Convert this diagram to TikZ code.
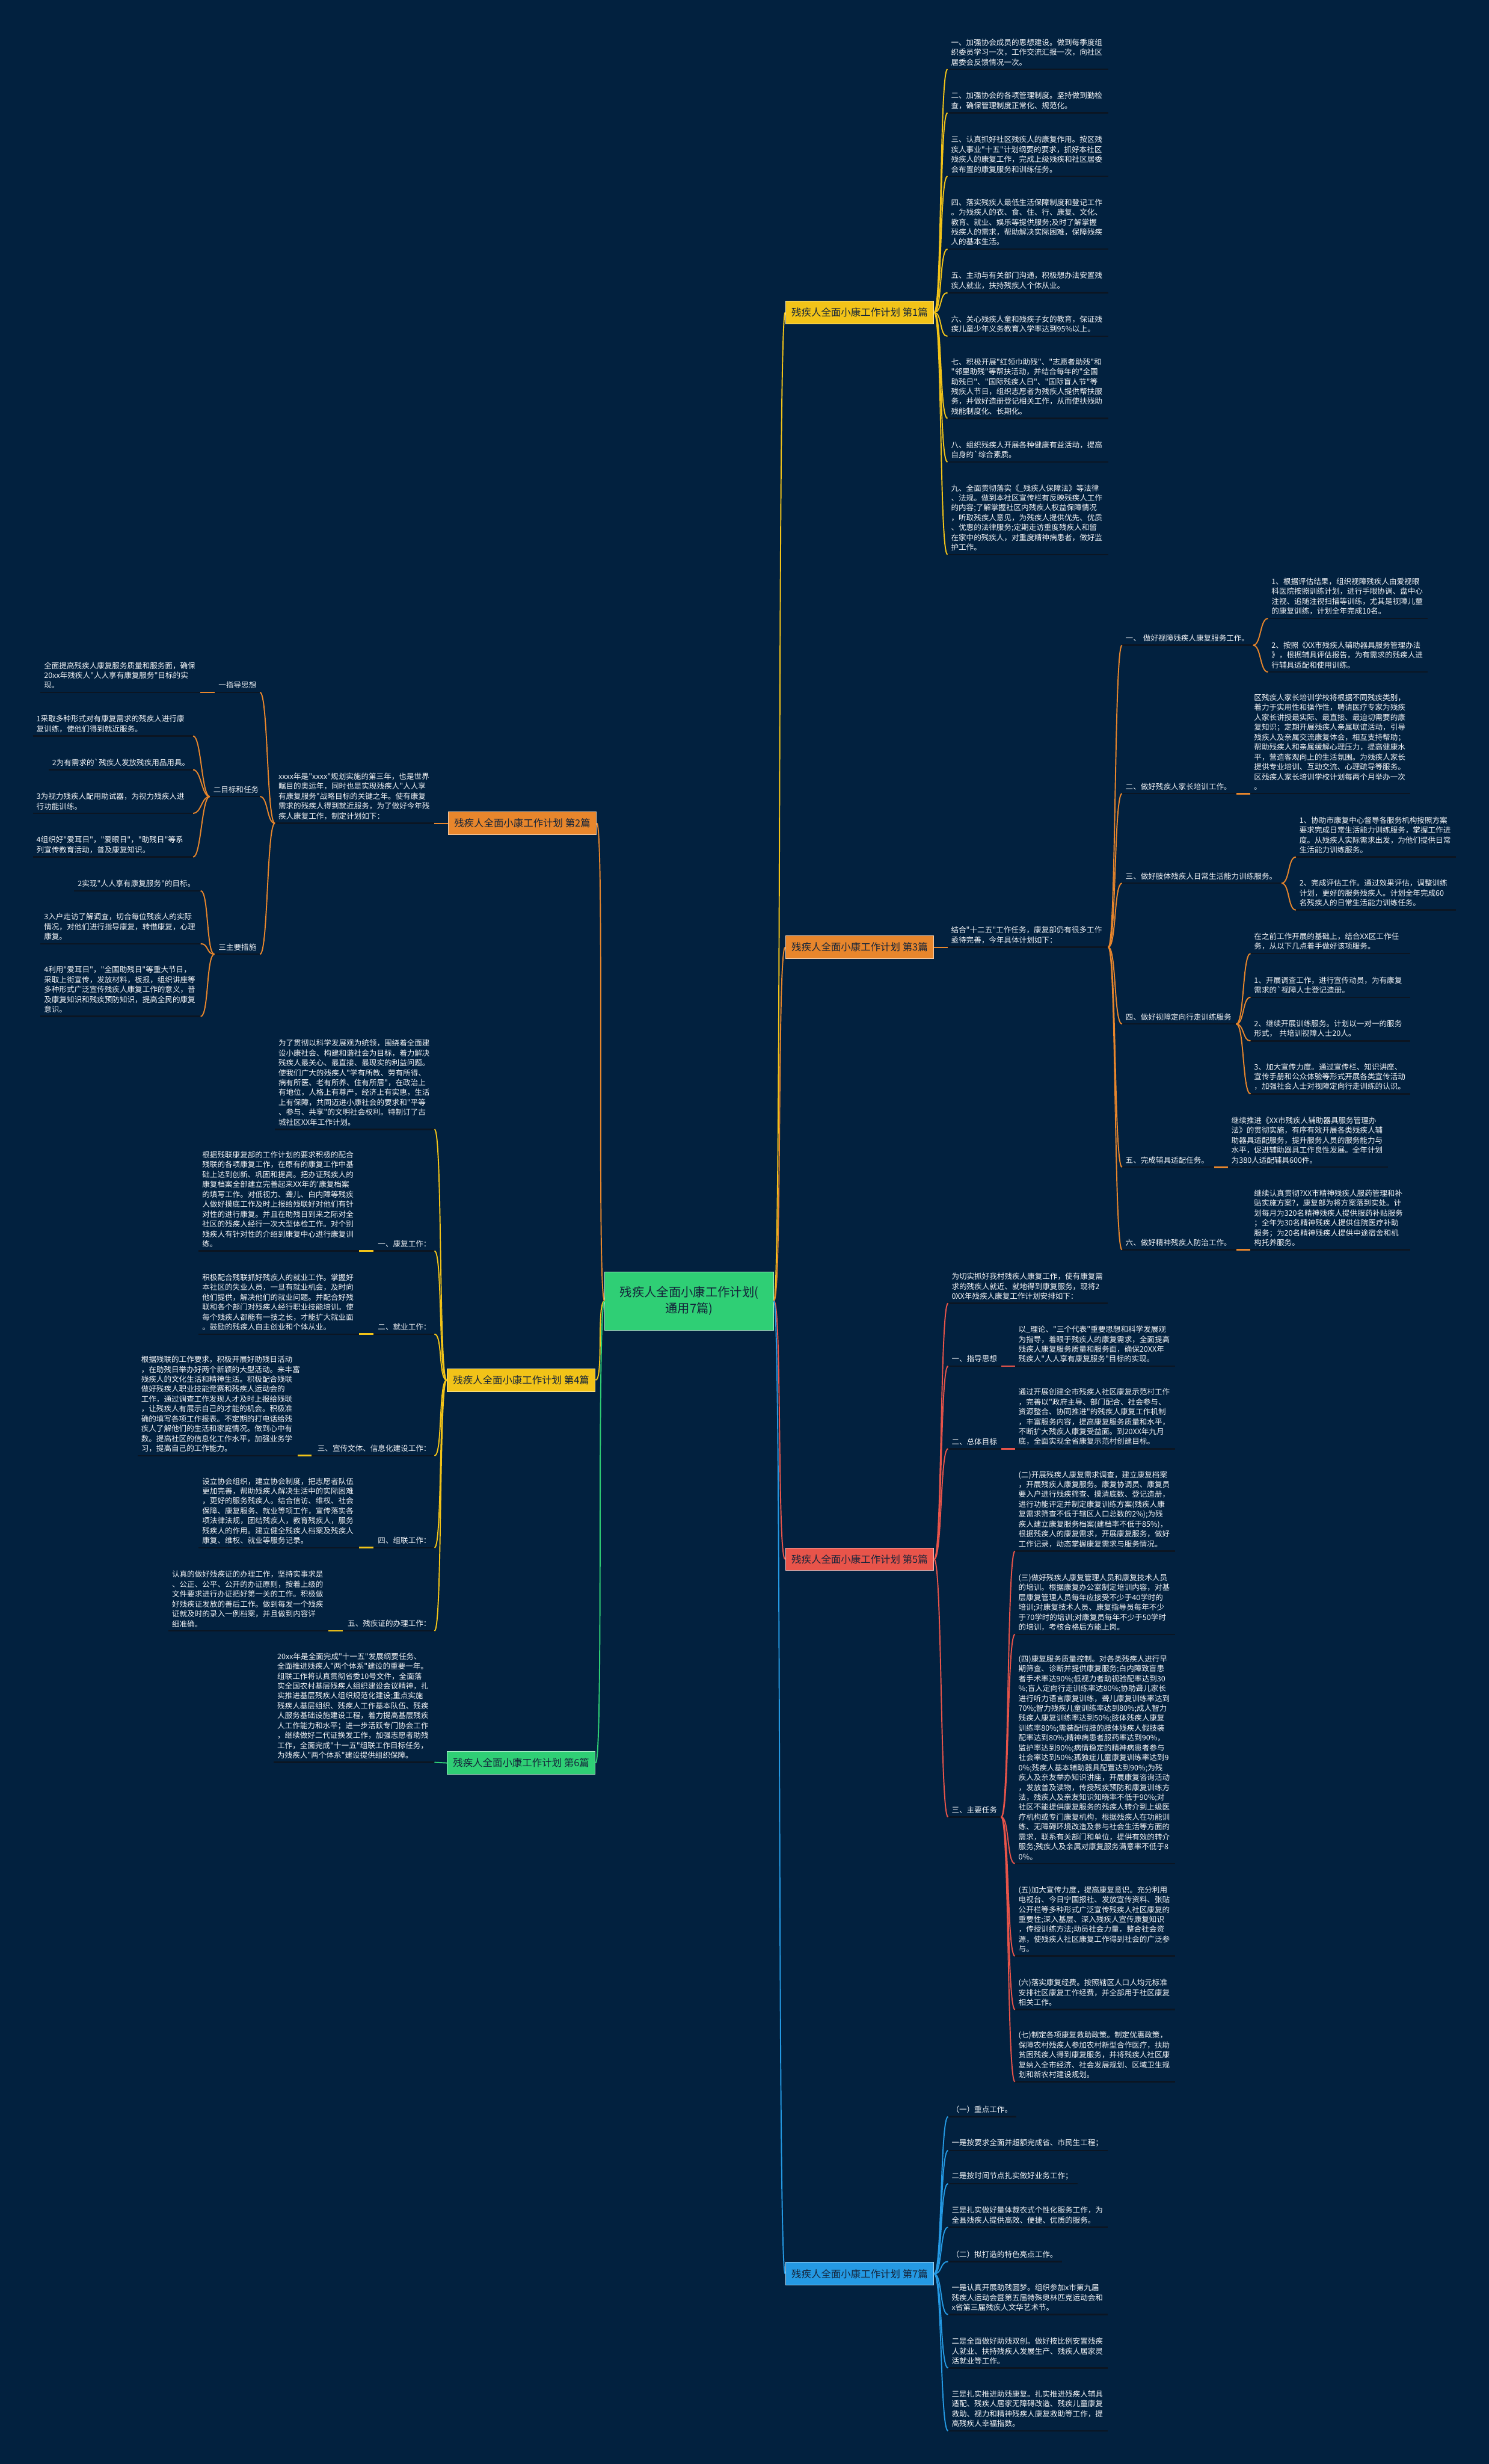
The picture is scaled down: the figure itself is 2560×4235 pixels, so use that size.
\documentclass[tikz,border=0pt]{standalone}
\usepackage{fontspec}
\setmainfont{Noto Sans CJK SC}[Ligatures=TeXOff]
\usepackage{tikz}

\definecolor{bg}{HTML}{02213F}
\definecolor{txt}{HTML}{F2F4F7}
\definecolor{uln}{HTML}{0B1522}
\definecolor{navy}{HTML}{14243A}
\definecolor{cyel}{HTML}{F2C318}
\definecolor{cora}{HTML}{E8862C}
\definecolor{cred}{HTML}{E8544A}
\definecolor{cblu}{HTML}{2499E3}
\definecolor{cgrn}{HTML}{2FCF75}
\newcommand\leaffont{\fontsize{13}{17}\selectfont}

\tikzset{
  leaf/.style={anchor=south west, text width=#1pt, align=left, inner xsep=6pt,
    inner ysep=6pt, text=txt, font=\leaffont},
  lleaf/.style={leaf=#1, anchor=south east},
  rtag/.style={lleaf=#1, align=right},
  uline/.style={draw=uln, line width=2.5pt},
  link/.style={draw=#1, line width=2pt},
  seg/.style={draw=#1, line width=3pt},
  bnode/.style={fill=#1, draw=white!60!#1, line width=1pt, minimum width=255pt,
    minimum height=39pt, inner sep=0pt, text=navy, font=\fontsize{17}{20}\selectfont},
  mainbox/.style={fill=cgrn, draw=white!60!cgrn, line width=1pt, minimum width=290pt,
    minimum height=100pt, align=center, text=navy, font=\fontsize{21}{28}\selectfont}
}

\begin{document}
\begin{tikzpicture}[x=1pt,y=-1pt]
  \fill[bg] (0,0) rectangle (2560,4235);
  \useasboundingbox (0,0) rectangle (2560,4235);

  % centre and the seven branches
  \node[mainbox] (cn) at (1185,2236) {残疾人全面小康工作计划(\\通用7篇)};
  \node[bnode=cyel] (b1) at (1478,537)  {残疾人全面小康工作计划 第1篇};
  \node[bnode=cora] (b3) at (1478,1628) {残疾人全面小康工作计划 第3篇};
  \node[bnode=cred] (b5) at (1478,2680) {残疾人全面小康工作计划 第5篇};
  \node[bnode=cblu] (b7) at (1478,3908) {残疾人全面小康工作计划 第7篇};
  \node[bnode=cora] (b2) at (898,1415)  {残疾人全面小康工作计划 第2篇};
  \node[bnode=cyel] (b4) at (896,2372)  {残疾人全面小康工作计划 第4篇};
  \node[bnode=cgrn] (b6) at (896,3030)  {残疾人全面小康工作计划 第6篇};

  % 第1篇
  \node[leaf=264] (a1) at (1629,119) {一、加强协会成员的思想建设。做到每季度组\\织委员学习一次，工作交流汇报一次，向社区\\居委会反馈情况一次。};
  \node[leaf=264] (a2) at (1629,194) {二、加强协会的各项管理制度。坚持做到勤检\\查，确保管理制度正常化、规范化。};
  \node[leaf=264] (a3) at (1629,303) {三、认真抓好社区残疾人的康复作用。按区残\\疾人事业"十五"计划纲要的要求，抓好本社区\\残疾人的康复工作，完成上级残疾和社区居委\\会布置的康复服务和训练任务。};
  \node[leaf=264] (a4) at (1629,428) {四、落实残疾人最低生活保障制度和登记工作\\。为残疾人的衣、食、住、行、康复、文化、\\教育、就业、娱乐等提供服务;及时了解掌握\\残疾人的需求，帮助解决实际困难，保障残疾\\人的基本生活。};
  \node[leaf=264] (a5) at (1629,503) {五、主动与有关部门沟通，积极想办法安置残\\疾人就业，扶持残疾人个体从业。};
  \node[leaf=264] (a6) at (1629,578) {六、关心残疾人童和残疾子女的教育，保证残\\疾儿童少年义务教育入学率达到95\%以上。};
  \node[leaf=264] (a7) at (1629,719) {七、积极开展"红领巾助残"、"志愿者助残"和\\"邻里助残"等帮扶活动，并结合每年的"全国\\助残日"、"国际残疾人日"、"国际盲人节"等\\残疾人节日，组织志愿者为残疾人提供帮扶服\\务，并做好造册登记相关工作，从而使扶残助\\残能制度化、长期化。};
  \node[leaf=264] (a8) at (1629,794) {八、组织残疾人开展各种健康有益活动，提高\\自身的`综合素质。};
  \node[leaf=264] (a9) at (1629,953) {九、全面贯彻落实《\_残疾人保障法》等法律\\、法规。做到本社区宣传栏有反映残疾人工作\\的内容;了解掌握社区内残疾人权益保障情况\\，听取残疾人意见，为残疾人提供优先、优质\\、优惠的法律服务;定期走访重度残疾人和留\\在家中的残疾人，对重度精神病患者，做好监\\护工作。};

  % 第3篇
  \node[leaf=264] (r3) at (1629,1628) {结合"十二五"工作任务，康复部仍有很多工作\\亟待完善，今年具体计划如下：};
  \node[leaf=213] (c31) at (1929,1109) {一、 做好视障残疾人康复服务工作。};
  \node[leaf=262] (c311) at (2180,1063) {1、根据评估结果，组织视障残疾人由爱视眼\\科医院按照训练计划，进行手眼协调、盘中心\\注视、追随注视扫描等训练，尤其是视障儿童\\的康复训练，计划全年完成10名。};
  \node[leaf=262] (c312) at (2180,1155) {2、按照《XX市残疾人辅助器具服务管理办法\\》，根据辅具评估报告，为有需求的残疾人进\\行辅具适配和使用训练。};
  \node[leaf=184] (c32) at (1929,1364) {二、做好残疾人家长培训工作。};
  \node[leaf=262] (c321) at (2150,1364) {区残疾人家长培训学校将根据不同残疾类别，\\着力于实用性和操作性，聘请医疗专家为残疾\\人家长讲授最实际、最直接、最迫切需要的康\\复知识；定期开展残疾人亲属联谊活动，引导\\残疾人及亲属交流康复体会，相互支持帮助；\\帮助残疾人和亲属缓解心理压力，提高健康水\\平，营造客观向上的生活氛围。为残疾人家长\\提供专业培训、互动交流、心理疏导等服务。\\区残疾人家长培训学校计划每两个月举办一次\\。};
  \node[leaf=262] (c33) at (1929,1518) {三、做好肢体残疾人日常生活能力训练服务。};
  \node[leaf=263] (c331) at (2228,1473) {1、协助市康复中心督导各服务机构按照方案\\要求完成日常生活能力训练服务，掌握工作进\\度。从残疾人实际需求出发，为他们提供日常\\生活能力训练服务。};
  \node[leaf=263] (c332) at (2228,1564) {2、完成评估工作。通过效果评估，调整训练\\计划，更好的服务残疾人。计划全年完成60\\名残疾人的日常生活能力训练任务。};
  \node[leaf=184] (c34) at (1929,1760) {四、做好视障定向行走训练服务};
  \node[leaf=262] (c341) at (2150,1639) {在之前工作开展的基础上，结合XX区工作任\\务，从以下几点着手做好该项服务。};
  \node[leaf=262] (c342) at (2150,1714) {1、开展调查工作，进行宣传动员，为有康复\\需求的`视障人士登记造册。};
  \node[leaf=262] (c343) at (2150,1789) {2、继续开展训练服务。计划以一对一的服务\\形式， 共培训视障人士20人。};
  \node[leaf=262] (c344) at (2150,1880) {3、加大宣传力度。通过宣传栏、知识讲座、\\宣传手册和公众体验等形式开展各类宣传活动\\，加强社会人士对视障定向行走训练的认识。};
  \node[leaf=146] (c35) at (1929,2006) {五、完成辅具适配任务。};
  \node[leaf=263] (c351) at (2111,2006) {继续推进《XX市残疾人辅助器具服务管理办\\法》的贯彻实施，有序有效开展各类残疾人辅\\助器具适配服务，提升服务人员的服务能力与\\水平，促进辅助器具工作良性发展。全年计划\\为380人适配辅具600件。};
  \node[leaf=184] (c36) at (1929,2148) {六、做好精神残疾人防治工作。};
  \node[leaf=262] (c361) at (2150,2148) {继续认真贯彻?XX市精神残疾人服药管理和补\\贴实施方案?，康复部为将方案落到实处。计\\划每月为320名精神残疾人提供服药补贴服务\\；全年为30名精神残疾人提供住院医疗补助\\服务；为20名精神残疾人提供中途宿舍和机\\构托养服务。};

  % 第5篇
  \node[leaf=262] (r5) at (1630,2240) {为切实抓好我村残疾人康复工作，使有康复需\\求的残疾人就近、就地得到康复服务，现将2\\0XX年残疾人康复工作计划安排如下：};
  \node[leaf=79] (c51) at (1630,2348) {一、指导思想};
  \node[leaf=263] (c511) at (1745,2348) {以\_理论、"三个代表"重要思想和科学发展观\\为指导，着眼于残疾人的康复需求，全面提高\\残疾人康复服务质量和服务面，确保20XX年\\残疾人"人人享有康复服务"目标的实现。};
  \node[leaf=79] (c52) at (1630,2490) {二、总体目标};
  \node[leaf=263] (c521) at (1745,2490) {通过开展创建全市残疾人社区康复示范村工作\\，完善以"政府主导、部门配合、社会参与、\\资源整合、协同推进"的残疾人康复工作机制\\，丰富服务内容，提高康复服务质量和水平，\\不断扩大残疾人康复受益面。到20XX年九月\\底，全面实现全省康复示范村创建目标。};
  \node[leaf=79] (c53) at (1630,3123) {三、主要任务};
  \node[leaf=263] (c531) at (1745,2666) {(二)开展残疾人康复需求调查，建立康复档案\\，开展残疾人康复服务。康复协调员、康复员\\要入户进行残疾筛查、摸清底数、登记造册，\\进行功能评定并制定康复训练方案(残疾人康\\复需求筛查不低于辖区人口总数的2\%);为残\\疾人建立康复服务档案(建档率不低于85\%)，\\根据残疾人的康复需求，开展康复服务，做好\\工作记录，动态掌握康复需求与服务情况。};
  \node[leaf=263] (c532) at (1745,2809) {(三)做好残疾人康复管理人员和康复技术人员\\的培训。根据康复办公室制定培训内容，对基\\层康复管理人员每年应接受不少于40学时的\\培训;对康复技术人员、康复指导员每年不少\\于70学时的培训;对康复员每年不少于50学时\\的培训，考核合格后方能上岗。};
  \node[leaf=263] (c533) at (1745,3203) {(四)康复服务质量控制。对各类残疾人进行早\\期筛查、诊断并提供康复服务;白内障致盲患\\者手术率达90\%;低视力者助视验配率达到30\\\%;盲人定向行走训练率达80\%;协助聋儿家长\\进行听力语言康复训练，聋儿康复训练率达到\\70\%;智力残疾儿童训练率达到80\%;成人智力\\残疾人康复训练率达到50\%;肢体残疾人康复\\训练率80\%;需装配假肢的肢体残疾人假肢装\\配率达到80\%;精神病患者服药率达到90\%，\\监护率达到90\%;病情稳定的精神病患者参与\\社会率达到50\%;孤独症儿童康复训练率达到9\\0\%;残疾人基本辅助器具配置达到90\%;为残\\疾人及亲友举办知识讲座，开展康复咨询活动\\，发放普及读物，传授残疾预防和康复训练方\\法，残疾人及亲友知识知晓率不低于90\%;对\\社区不能提供康复服务的残疾人转介到上级医\\疗机构或专门康复机构，根据残疾人在功能训\\练、无障碍环境改造及参与社会生活等方面的\\需求，联系有关部门和单位，提供有效的转介\\服务;残疾人及亲属对康复服务满意率不低于8\\0\%。};
  \node[leaf=263] (c534) at (1745,3362) {(五)加大宣传力度，提高康复意识。充分利用\\电视台、今日宁国报社、发放宣传资料、张贴\\公开栏等多种形式广泛宣传残疾人社区康复的\\重要性;深入基层、深入残疾人宣传康复知识\\，传授训练方法;动员社会力量，整合社会资\\源，使残疾人社区康复工作得到社会的广泛参\\与。};
  \node[leaf=263] (c535) at (1745,3454) {(六)落实康复经费。按照辖区人口人均元标准\\安排社区康复工作经费，并全部用于社区康复\\相关工作。};
  \node[leaf=263] (c536) at (1745,3578) {(七)制定各项康复救助政策。制定优惠政策，\\保障农村残疾人参加农村新型合作医疗，扶助\\贫困残疾人得到康复服务，并将残疾人社区康\\复纳入全市经济、社会发展规划、区域卫生规\\划和新农村建设规划。};

  % 第7篇
  \node[leaf=105] (d1) at (1630,3638) {（一）重点工作。};
  \node[leaf=262] (d2) at (1630,3696) {一是按要求全面并超额完成省、市民生工程；};
  \node[leaf=210] (d3) at (1630,3753) {二是按时间节点扎实做好业务工作；};
  \node[leaf=262] (d4) at (1630,3828) {三是扎实做好量体裁衣式个性化服务工作，为\\全县残疾人提供高效、便捷、优质的服务。};
  \node[leaf=183] (d5) at (1630,3887) {（二）拟打造的特色亮点工作。};
  \node[leaf=262] (d6) at (1630,3978) {一是认真开展助残圆梦。组织参加x市第九届\\残疾人运动会暨第五届特殊奥林匹克运动会和\\x省第三届残疾人文华艺术节。};
  \node[leaf=262] (d7) at (1630,4070) {二是全面做好助残双创。做好按比例安置残疾\\人就业、扶持残疾人发展生产、残疾人居家灵\\活就业等工作。};
  \node[leaf=262] (d8) at (1630,4178) {三是扎实推进助残康复。扎实推进残疾人辅具\\适配、残疾人居家无障碍改造、残疾儿童康复\\救助、视力和精神残疾人康复救助等工作，提\\高残疾人幸福指数。};

  % 第2篇
  \node[lleaf=262] (r2) at (747,1415) {xxxx年是"xxxx"规划实施的第三年，也是世界\\瞩目的奥运年，同时也是实现残疾人"人人享\\有康复服务"战略目标的关键之年。使有康复\\需求的残疾人得到就近服务，为了做好今年残\\疾人康复工作，制定计划如下：};
  \node[rtag=66] (e1) at (447,1190) {一指导思想};
  \node[lleaf=262] (e11) at (344,1190) {全面提高残疾人康复服务质量和服务面，确保\\20xx年残疾人"人人享有康复服务"目标的实\\现。};
  \node[rtag=74] (e2) at (447,1369) {二目标和任务};
  \node[lleaf=263] (e21) at (332,1265) {1采取多种形式对有康复需求的残疾人进行康\\复训练，使他们得到就近服务。};
  \node[lleaf=236] (e22) at (332,1323) {2为有需求的`残疾人发放残疾用品用具。};
  \node[lleaf=263] (e23) at (332,1398) {3为视力残疾人配用助试器，为视力残疾人进\\行功能训练。};
  \node[lleaf=263] (e24) at (332,1473) {4组织好"爱耳日"，"爱眼日"，"助残日"等系\\列宣传教育活动，普及康复知识。};
  \node[rtag=66] (e3) at (447,1640) {三主要措施};
  \node[lleaf=205] (e31) at (345,1531) {2实现"人人享有康复服务"的目标。};
  \node[lleaf=263] (e32) at (345,1622) {3入户走访了解调查，切合每位残疾人的实际\\情况，对他们进行指导康复，转借康复，心理\\康复。};
  \node[lleaf=263] (e33) at (345,1747) {4利用"爱耳日"，"全国助残日"等重大节日，\\采取上街宣传，发放材料，板报，组织讲座等\\多种形式广泛宣传残疾人康复工作的意义，普\\及康复知识和残疾预防知识，提高全民的康复\\意识。};

  % 第4篇
  \node[lleaf=262] (f0) at (747,1941) {为了贯彻以科学发展观为统领，围绕着全面建\\设小康社会、构建和谐社会为目标，着力解决\\残疾人最关心、最直接、最现实的利益问题。\\使我们广大的残疾人"学有所教、劳有所得、\\病有所医、老有所养、住有所居"，在政治上\\有地位，人格上有尊严，经济上有实惠，生活\\上有保障，共同迈进小康社会的要求和"平等\\、参与、共享"的文明社会权利。特制订了古\\城社区XX年工作计划。};
  \node[rtag=93] (f1) at (747,2150) {一、康复工作：};
  \node[lleaf=263] (f11) at (617,2150) {根据残联康复部的工作计划的要求积极的配合\\残联的各项康复工作，在原有的康复工作中基\\础上达到创新、巩固和提高。把办证残疾人的\\康复档案全部建立完善起来XX年的'康复档案\\的填写工作。对低视力、聋儿、白内障等残疾\\人做好摸底工作及时上报给残联好对他们有针\\对性的进行康复。并且在助残日到来之际对全\\社区的残疾人经行一次大型体检工作。对个别\\残疾人有针对性的介绍到康复中心进行康复训\\练。};
  \node[rtag=93] (f2) at (747,2293) {二、就业工作：};
  \node[lleaf=263] (f21) at (617,2293) {积极配合残联抓好残疾人的就业工作。掌握好\\本社区的失业人员，一旦有就业机会，及时向\\他们提供，解决他们的就业问题。并配合好残\\联和各个部门对残疾人经行职业技能培训。使\\每个残疾人都能有一技之长，才能扩大就业面\\。鼓励的残疾人自主创业和个体从业。};
  \node[rtag=199] (f3) at (747,2502) {三、宣传文体、信息化建设工作：};
  \node[lleaf=263] (f31) at (512,2502) {根据残联的工作要求，积极开展好助残日活动\\，在助残日举办好两个新颖的大型活动。来丰富\\残疾人的文化生活和精神生活。积极配合残联\\做好残疾人职业技能竞赛和残疾人运动会的\\工作，通过调查工作发现人才及时上报给残联\\，让残疾人有展示自己的才能的机会。积极准\\确的填写各项工作报表。不定期的打电话给残\\疾人了解他们的生活和家庭情况。做到心中有\\数。提高社区的信息化工作水平，加强业务学\\习，提高自己的工作能力。};
  \node[rtag=93] (f4) at (747,2660) {四、组联工作：};
  \node[lleaf=263] (f41) at (617,2660) {设立协会组织，建立协会制度，把志愿者队伍\\更加完善，帮助残疾人解决生活中的实际困难\\，更好的服务残疾人。结合信访、维权、社会\\保障、康复服务、就业等项工作，宣传落实各\\项法律法规，团结残疾人，教育残疾人，服务\\残疾人的作用。建立健全残疾人档案及残疾人\\康复、维权、就业等服务记录。};
  \node[rtag=145] (f5) at (747,2803) {五、残疾证的办理工作：};
  \node[lleaf=263] (f51) at (565,2803) {认真的做好残疾证的办理工作，坚持实事求是\\、公正、公平、公开的办证原则，按着上级的\\文件要求进行办证把好第一关的工作。积极做\\好残疾证发放的善后工作。做到每发一个残疾\\证就及时的录入一例档案，并且做到内容详\\细准确。};

  % 第6篇
  \node[lleaf=264] (g1) at (747,3029) {20xx年是全面完成"十一五"发展纲要任务、\\全面推进残疾人"两个体系"建设的重要一年。\\组联工作将认真贯彻省委10号文件，全面落\\实全国农村基层残疾人组织建设会议精神，扎\\实推进基层残疾人组织规范化建设;重点实施\\残疾人基层组织、残疾人工作基本队伍、残疾\\人服务基础设施建设工程，着力提高基层残疾\\人工作能力和水平；进一步活跃专门协会工作\\，继续做好二代证换发工作，加强志愿者助残\\工作，全面完成"十一五"组联工作目标任务，\\为残疾人"两个体系"建设提供组织保障。};

  % underlines
  \foreach \n in {a1,a2,a3,a4,a5,a6,a7,a8,a9,r3,c31,c311,c312,c32,c321,c33,c331,c332,
      c34,c341,c342,c343,c344,c35,c351,c36,c361,r5,c51,c511,c52,c521,c53,c531,c532,
      c533,c534,c535,c536,d1,d2,d3,d4,d5,d6,d7,d8,r2,e1,e11,e2,e21,e22,e23,e24,e3,
      e31,e32,e33,f0,f1,f11,f2,f21,f3,f31,f4,f41,f5,f51,g1}
    \draw[uline] (\n.south west) -- (\n.south east);

  % centre to branches
  \foreach \b/\c in {b1/cyel,b3/cora,b5/cred,b7/cblu}
    \draw[link=\c] (cn.east) .. controls +(14,0) and +(-14,0) .. (\b.west);
  \foreach \b/\c in {b2/cora,b4/cyel,b6/cgrn}
    \draw[link=\c] (cn.west) .. controls +(-14,0) and +(14,0) .. (\b.east);

  % right side
  \foreach \n in {a1,a2,a3,a4,a5,a6,a7,a8,a9}
    \draw[link=cyel] (b1.east) .. controls +(14,0) and +(-14,0) .. (\n.south west);
  \draw[link=cora] (b3.east) -- (r3.south west);
  \foreach \n in {c31,c32,c33,c34,c35,c36}
    \draw[link=cora] (r3.south east) .. controls +(14,0) and +(-14,0) .. (\n.south west);
  \foreach \p/\n in {c31/c311,c31/c312,c33/c331,c33/c332,c34/c341,c34/c342,c34/c343,c34/c344}
    \draw[link=cora] (\p.south east) .. controls +(14,0) and +(-14,0) .. (\n.south west);
  \foreach \p/\n in {c32/c321,c35/c351,c36/c361}
    \draw[seg=cora] (\p.south east) -- (\n.south west);
  \foreach \n in {r5,c51,c52,c53}
    \draw[link=cred] (b5.east) .. controls +(14,0) and +(-14,0) .. (\n.south west);
  \foreach \p/\n in {c51/c511,c52/c521}
    \draw[seg=cred] (\p.south east) -- (\n.south west);
  \foreach \n in {c531,c532,c533,c534,c535,c536}
    \draw[link=cred] (c53.south east) .. controls +(14,0) and +(-14,0) .. (\n.south west);
  \foreach \n in {d1,d2,d3,d4,d5,d6,d7,d8}
    \draw[link=cblu] (b7.east) .. controls +(14,0) and +(-14,0) .. (\n.south west);

  % left side
  \draw[link=cora] (b2.west) -- (r2.south east);
  \foreach \n in {e1,e2,e3}
    \draw[link=cora] (r2.south west) .. controls +(-14,0) and +(14,0) .. (\n.south east);
  \draw[seg=cora] (e1.south west) -- (e11.south east);
  \foreach \p/\n in {e2/e21,e2/e22,e2/e23,e2/e24,e3/e31,e3/e32,e3/e33}
    \draw[link=cora] (\p.south west) .. controls +(-14,0) and +(14,0) .. (\n.south east);
  \foreach \n in {f0,f1,f2,f3,f4,f5}
    \draw[link=cyel] (b4.west) .. controls +(-14,0) and +(14,0) .. (\n.south east);
  \foreach \p/\n in {f1/f11,f2/f21,f3/f31,f4/f41,f5/f51}
    \draw[seg=cyel] (\p.south west) -- (\n.south east);
  \draw[link=cgrn] (b6.west) -- (g1.south east);
\end{tikzpicture}
\end{document}
